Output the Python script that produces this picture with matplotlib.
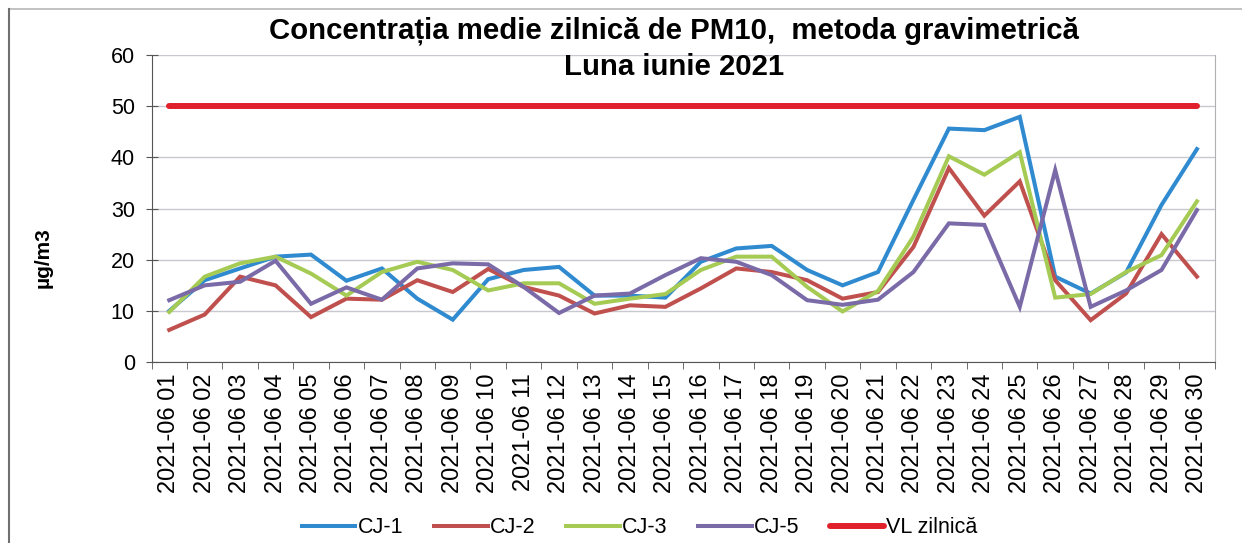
import matplotlib

matplotlib.use("Agg")
import matplotlib.pyplot as plt  # noqa: E402
import numpy as np  # noqa: E402
from matplotlib.lines import Line2D  # noqa: E402

plt.rcParams["font.family"] = ["Liberation Sans", "DejaVu Sans"]

# ── data ─────────────────────────────────────────────────────────────────────
days = [f"2021-06 {d:02d}" for d in range(1, 31)]
cj1 = [10.0, 16.0, 18.3, 20.6, 21.0, 15.9, 18.3, 12.4, 8.3, 16.2,
       18.0, 18.6, 13.0, 13.0, 12.6, 19.6, 22.2, 22.7, 18.0, 15.0,
       17.6, 31.7, 45.6, 45.3, 47.9, 16.7, 13.4, 17.5, 30.7, 41.6]
cj2 = [6.3, 9.3, 16.7, 15.0, 8.8, 12.4, 12.2, 16.0, 13.7, 18.2,
       14.7, 13.0, 9.5, 11.1, 10.8, 14.4, 18.3, 17.6, 16.0, 12.4,
       13.7, 22.5, 37.9, 28.6, 35.3, 16.0, 8.2, 13.4, 25.0, 16.7]
cj3 = [9.8, 16.7, 19.3, 20.6, 17.3, 13.0, 17.6, 19.6, 18.0, 14.0,
       15.4, 15.4, 11.4, 12.4, 13.3, 18.0, 20.6, 20.6, 14.7, 9.9,
       13.9, 24.5, 40.2, 36.6, 41.0, 12.6, 13.3, 17.6, 20.9, 31.4]
cj5 = [12.1, 15.0, 15.7, 19.8, 11.4, 14.6, 12.2, 18.3, 19.3, 19.1,
       14.7, 9.6, 13.0, 13.4, 17.0, 20.3, 19.6, 17.0, 12.1, 11.2,
       12.2, 17.6, 27.1, 26.8, 10.8, 37.5, 10.8, 14.0, 18.0, 29.7]
vl = [50] * 30

series = [("CJ-1", cj1, "#2F8AD0"), ("CJ-2", cj2, "#C0504D"),
          ("CJ-3", cj3, "#A6CB55"), ("CJ-5", cj5, "#7A6AA8")]

# ── plot ─────────────────────────────────────────────────────────────────────
fig = plt.figure(figsize=(12.42, 5.43), dpi=100)
ax = fig.add_axes([0.122, 0.333, 0.856, 0.566])
x = np.arange(1, 31)
for name, vals, col in series:
    ax.plot(x, vals, color=col, lw=2.9, label=name, solid_joinstyle="miter")
ax.plot(x, vl, color="#E0202A", lw=4.3, label="VL zilnică", solid_capstyle="round")

ax.set_xlim(0.5, 30.5)
ax.set_ylim(0, 60)
ax.set_yticks(range(0, 61, 10))
ax.yaxis.grid(True, color="#C8C8D0", lw=1)
ax.set_axisbelow(True)
ax.set_xticks(x)
ax.set_xticklabels(days, rotation=90, fontsize=17)
ax.set_xticks(np.arange(0.5, 31, 1), minor=True)
ax.tick_params(axis="x", which="major", length=0, pad=8)
ax.tick_params(axis="x", which="minor", length=5, color="#555555")
ax.tick_params(axis="y", labelsize=15.5, length=8, direction="inout",
               color="#555555", pad=8)
ax.spines["top"].set_visible(False)
ax.spines["right"].set_color("#B0B0B0")
for s in ("left", "bottom"):
    ax.spines[s].set_color("#555555")

fig.text(43 / 1242, 1 - 258 / 543, "µg/m3", rotation=90, ha="center",
         va="center", fontsize=15, fontweight="bold")

fig.text(0.543, 0.943, "Concentrația medie zilnică de PM10,  metoda gravimetrică",
         ha="center", va="center", fontsize=21.2, fontweight="bold")
fig.text(0.543, 0.877, "Luna iunie 2021", ha="center", va="center",
         fontsize=21.2, fontweight="bold")

fig.legend(loc="center", bbox_to_anchor=(0.515, 0.028), ncol=5, frameon=False,
           fontsize=15.5, handlelength=2.5, handletextpad=0.12, columnspacing=1.4)

# chenarul zonei graficului
fig.add_artist(Line2D([9 / 1242, 1], [1 - 9 / 543] * 2, color="#B8B8B8", lw=1.2))
fig.add_artist(Line2D([9 / 1242] * 2, [0, 1 - 9 / 543], color="#707070", lw=1.5))

fig.savefig("out.png", dpi=100)
plt.close(fig)
